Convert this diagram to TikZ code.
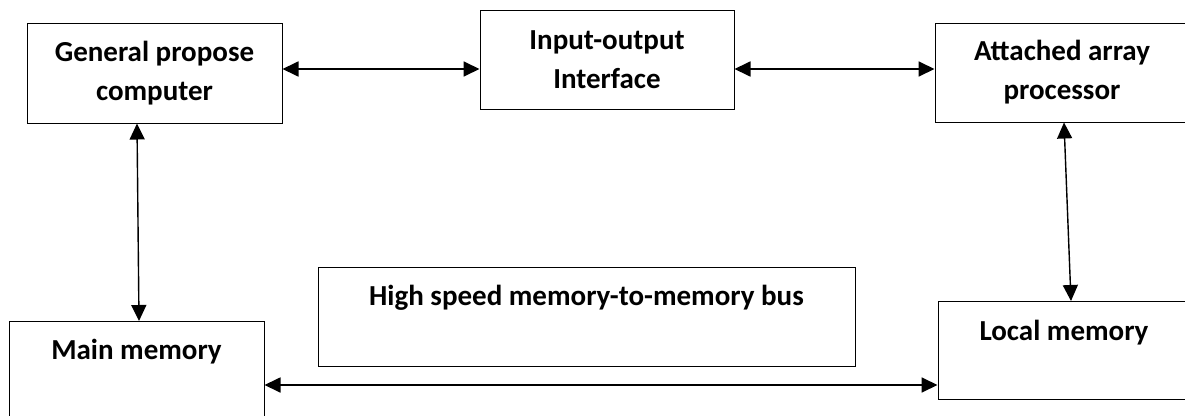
\documentclass[tikz,border=0pt]{standalone}
\usepackage{fontspec}
\setmainfont{Carlito}
\usetikzlibrary{arrows.meta}
\begin{document}
\begin{tikzpicture}[x=1pt,y=-1pt,
  box/.style={draw, line width=1pt, inner sep=0pt, align=center,
    font=\bfseries\fontsize{29}{39}\selectfont},
  link/.style={{Triangle[length=16pt,width=15pt]}-{Triangle[length=16pt,width=15pt]}, line width=1.8pt},
  vlink/.style={{Triangle[length=16pt,width=15pt]}-{Triangle[length=16pt,width=15pt]}, line width=1.4pt},
]
\useasboundingbox (0,0) rectangle (1185,415);
\node[box, minimum width=255pt, minimum height=100pt] (gpc) at (154.5,73) {General propose\\computer};
\node[box, minimum width=254pt, minimum height=99pt] (io) at (607,59.5) {Input-output\\Interface};
\node[box, minimum width=254pt, minimum height=99pt] (att) at (1062,72.5) {Attached array\\processor};
\node[box, minimum width=537pt, text height=38pt, text depth=61pt, anchor=north] (hsm) at (586.5,267) {High speed memory-to-memory bus};
\node[box, minimum width=255pt, text height=38pt, text depth=62pt, anchor=north] (main) at (136.5,321) {Main memory};
\node[box, minimum width=252pt, text height=39pt, text depth=59pt, anchor=north] (local) at (1064,301) {Local memory};
\coordinate (ya) at (0,69);
\coordinate (yb) at (0,385);
\coordinate (xa) at (137,0);
\coordinate (xb) at (139,0);
\coordinate (xc) at (1064,0);
\coordinate (xd) at (1071,0);
\draw[link] (gpc.east |- ya) -- (io.west |- ya);
\draw[link] (io.east |- ya) -- (att.west |- ya);
\draw[vlink] (xa |- gpc.south) -- (xb |- main.north);
\draw[vlink] (xc |- att.south) -- (xd |- local.north);
\draw[link] (main.east |- yb) -- (local.west |- yb);
\end{tikzpicture}
\end{document}
